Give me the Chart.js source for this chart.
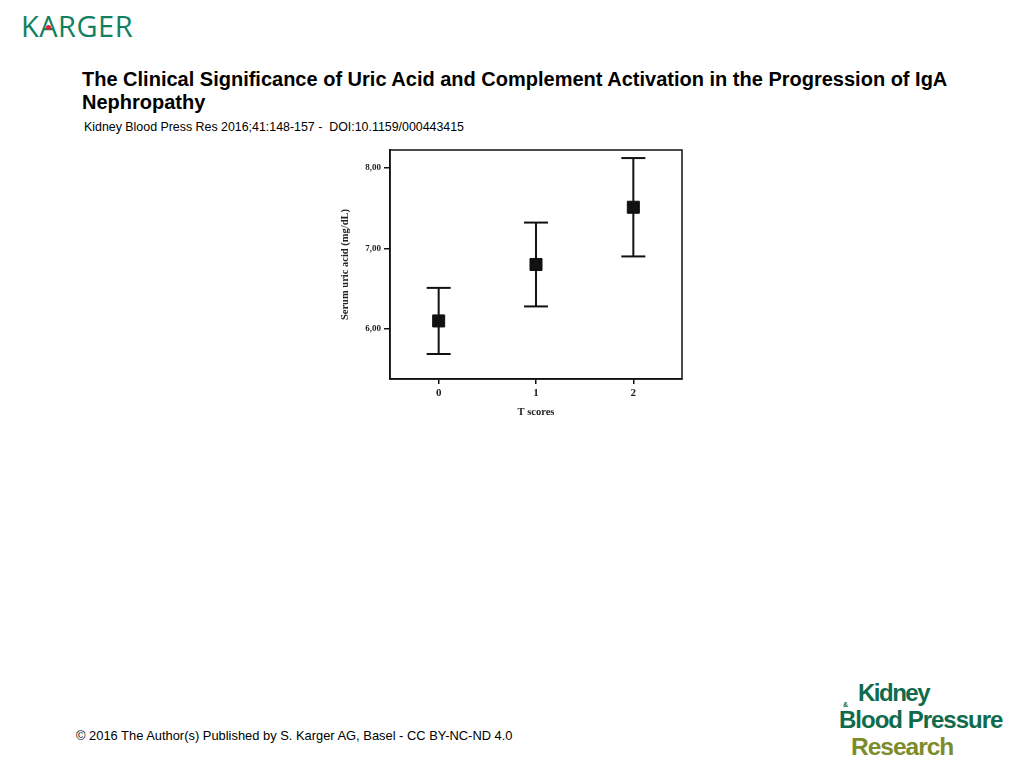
<!DOCTYPE html>
<html>
<head>
<meta charset="utf-8">
<script src="https://cdn.jsdelivr.net/npm/chart.js@4.4.0/dist/chart.umd.min.js"></script>
<style>
    body { margin: 0; width: 1024px; height: 768px; background: #fff; position: relative; overflow: hidden; font-family: "Liberation Sans", Arial, sans-serif; }
    .abs { position: absolute; white-space: nowrap; }
    #karger { left: 21px; top: 6px; font-family: "Open Sans", sans-serif; font-size: 29px; color: #12805f; letter-spacing: 0.5px; }
    #kdot { left: 46px; top: 25px; width: 5px; height: 5px; border-radius: 50%; background: #d4213d; }
    #title { left: 82px; top: 68px; font-size: 20px; font-weight: bold; line-height: 23px; color: #000; }
    #sub { left: 84px; top: 120px; font-size: 12.4px; color: #000; }
    #foot { left: 76px; top: 728px; font-size: 12.9px; color: #000; }
    .logo { font-family: "Liberation Sans", Arial, sans-serif; font-weight: bold; letter-spacing: -1px; line-height: 18px; }
    #chartBox { position: absolute; left: 330px; top: 136px; width: 370px; height: 294px; }
</style>
</head>
<body>
<div id="karger" class="abs">KARGER</div>
<div id="kdot" class="abs"></div>
<div id="title" class="abs">The Clinical Significance of Uric Acid and Complement Activation in the Progression of IgA<br>Nephropathy</div>
<div id="sub" class="abs">Kidney Blood Press Res 2016;41:148-157 -&nbsp; DOI:10.1159/000443415</div>
<div id="foot" class="abs">© 2016 The Author(s) Published by S. Karger AG, Basel - CC BY-NC-ND 4.0</div>
<div class="abs logo" style="left:858px; top:684px; font-size:24px; letter-spacing:-1.5px; color:#0f6b4c;">Kidney</div>
<div class="abs logo" style="left:843px; top:702px; font-size:7px; line-height:5px; color:#0f6b4c; letter-spacing:0;">&amp;</div>
<div class="abs logo" style="left:839px; top:711px; font-size:24px; color:#0f6b4c;">Blood Pressure</div>
<div class="abs logo" style="left:851px; top:738px; font-size:24.5px; color:#7d8c2b;">Research</div>
<div id="chartBox"><canvas id="uricChart"></canvas></div>
<script>
// T scores
var tScores = [0, 1, 2];
// serum uric acid, mean and error bar ends
var uricMean = [6.10, 6.80, 7.51];
var uricLower = [5.69, 6.28, 6.90];
var uricUpper = [6.51, 7.32, 8.12];
var yTicks = [6, 7, 8];

window.onload = function () {
    var serif = '"Liberation Serif", "DejaVu Serif", serif';

    var datasets = [
        {
            label: 'mean',
            data: tScores.map(function (t, i) { return { x: t, y: uricMean[i] }; }),
            pointStyle: 'rect',
            pointRadius: 8.5,
            backgroundColor: '#111',
            borderColor: '#111',
            showLine: false,
            order: 0
        }
    ];
    // whisker per category: vertical line with flat caps
    tScores.forEach(function (t, i) {
        datasets.push({
            label: 'bar ' + t,
            data: [{ x: t, y: uricLower[i] }, { x: t, y: uricUpper[i] }],
            showLine: true,
            borderColor: '#111',
            borderWidth: 2,
            pointStyle: 'line',
            pointRadius: 12,
            pointBorderWidth: 2,
            pointBorderColor: '#111',
            order: 1
        });
    });

    var frame = {
        id: 'frame',
        afterDraw: function (chart) {
            var a = chart.chartArea, ctx = chart.ctx;
            ctx.save();
            ctx.strokeStyle = '#111';
            ctx.lineWidth = 1.5;
            ctx.strokeRect(a.left, a.top, a.right - a.left, a.bottom - a.top);
            ctx.restore();
        }
    };

    var ctx = document.getElementById('uricChart').getContext('2d');
    new Chart(ctx, {
        type: 'scatter',
        data: { datasets: datasets },
        options: {
            responsive: true,
            maintainAspectRatio: false,
            animation: false,
            layout: { padding: { top: 6, right: 18, left: 0, bottom: 0 } },
            scales: {
                x: {
                    type: 'linear',
                    min: -0.5,
                    max: 2.5,
                    afterBuildTicks: function (scale) {
                        scale.ticks = tScores.map(function (v) { return { value: v }; });
                    },
                    afterFit: function (scale) { scale.height = 51; },
                    grid: { drawOnChartArea: false, drawTicks: true, tickLength: 5, color: '#111', lineWidth: 1.5 },
                    border: { display: true, color: '#111', width: 1.5 },
                    ticks: { color: '#222', padding: 3, font: { family: serif, size: 11, weight: 'bold' } },
                    title: { display: true, text: 'T scores', color: '#222', padding: { top: 4, bottom: 11 }, font: { family: serif, size: 10.5, weight: 'bold' } }
                },
                y: {
                    min: 5.38,
                    max: 8.22,
                    afterBuildTicks: function (scale) {
                        scale.ticks = yTicks.map(function (v) { return { value: v }; });
                    },
                    afterFit: function (scale) { scale.width = 60; },
                    grid: { drawOnChartArea: false, drawTicks: true, tickLength: 6, color: '#111', lineWidth: 1.5 },
                    border: { display: true, color: '#111', width: 1.5 },
                    ticks: {
                        color: '#222',
                        padding: 3,
                        font: { family: serif, size: 9, weight: 'bold' },
                        callback: function (value) { return value.toFixed(2).replace('.', ','); }
                    },
                    title: { display: true, text: 'Serum uric acid (mg/dL)', color: '#222', padding: { top: 9, bottom: 2 }, font: { family: serif, size: 10.5, weight: 'bold' } }
                }
            },
            plugins: {
                legend: { display: false },
                tooltip: { enabled: false }
            }
        },
        plugins: [frame]
    });
};
</script>
</body>
</html>
